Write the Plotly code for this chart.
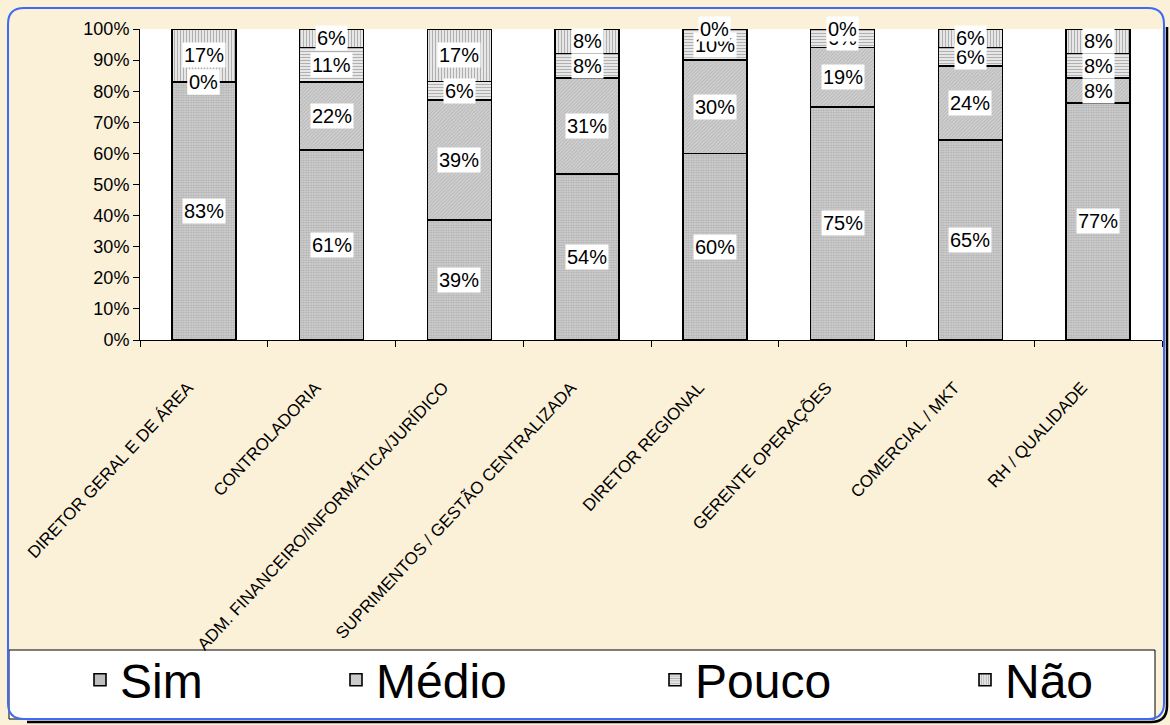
import plotly.graph_objects as go

categorias = [
    "DIRETOR GERAL E DE ÁREA",
    "CONTROLADORIA",
    "ADM. FINANCEIRO/INFORMÁTICA/JURÍDICO",
    "SUPRIMENTOS / GESTÃO CENTRALIZADA",
    "DIRETOR REGIONAL",
    "GERENTE OPERAÇÕES",
    "COMERCIAL / MKT",
    "RH / QUALIDADE",
]
sim = [83, 61, 39, 54, 60, 75, 65, 77]
medio = [0, 22, 39, 31, 30, 19, 24, 8]
pouco = [0, 11, 6, 8, 10, 6, 6, 8]
nao = [17, 6, 17, 8, 0, 0, 6, 8]

series = [
    ("Sim", sim, dict(shape=".", size=2.5, solidity=0.65, fgcolor="#888888", bgcolor="#dadada")),
    ("Médio", medio, dict(shape="/", size=2.5, solidity=0.45, fgcolor="#9a9a9a", bgcolor="#d4d4d4")),
    ("Pouco", pouco, dict(shape="-", size=3, solidity=0.45, fgcolor="#6e6e6e", bgcolor="#f2f2f2")),
    ("Não", nao, dict(shape="|", size=3, solidity=0.45, fgcolor="#6e6e6e", bgcolor="#f2f2f2")),
]
# left edge (px) of each legend entry
legend_x = [80, 336, 655, 965]

FONT = "Liberation Sans, Arial, sans-serif"
W, H = 1170, 725
L, R, T, B = 140, 1162, 29, 340

fig = go.Figure()
for k, (nome, vals, pat) in enumerate(series):
    fig.add_trace(go.Bar(
        name=nome, x=categorias, y=vals,
        marker=dict(color=pat["bgcolor"], pattern=pat,
                    line=dict(color="black", width=1.6)),
        hoverinfo="skip",
        legend="legend" if k == 0 else f"legend{k + 1}",
    ))

# value labels centred in each (normalised) segment, on white boxes
annotations = []
for i, cat in enumerate(categorias):
    total = sum(s[1][i] for s in series)
    base = 0.0
    for nome, vals, pat in series:
        h = vals[i] * 100.0 / total
        annotations.append(dict(
            x=cat, y=base + h / 2, xref="x", yref="y",
            text=f"{vals[i]}%", showarrow=False,
            font=dict(family=FONT, size=20, color="black"),
            bgcolor="white", borderpad=1,
        ))
        base += h


def px_x(p):
    return (p - L) / (R - L)


def px_y(p):
    return (B - p) / (B - T)


def rounded_rect(x0, y0, x1, y1, r):
    pts = [
        f"M {px_x(x0 + r)} {px_y(y0)}",
        f"L {px_x(x1 - r)} {px_y(y0)}",
        f"Q {px_x(x1)} {px_y(y0)} {px_x(x1)} {px_y(y0 + r)}",
        f"L {px_x(x1)} {px_y(y1 - r)}",
        f"Q {px_x(x1)} {px_y(y1)} {px_x(x1 - r)} {px_y(y1)}",
        f"L {px_x(x0 + r)} {px_y(y1)}",
        f"Q {px_x(x0)} {px_y(y1)} {px_x(x0)} {px_y(y1 - r)}",
        f"L {px_x(x0)} {px_y(y0 + r)}",
        f"Q {px_x(x0)} {px_y(y0)} {px_x(x0 + r)} {px_y(y0)}",
        "Z",
    ]
    return " ".join(pts)


def shadow_edge(x0, y0, x1, y1, r):
    # right and bottom sides only
    pts = [
        f"M {px_x(x1)} {px_y(y0 + r)}",
        f"L {px_x(x1)} {px_y(y1 - r)}",
        f"Q {px_x(x1)} {px_y(y1)} {px_x(x1 - r)} {px_y(y1)}",
        f"L {px_x(x0 + r)} {px_y(y1)}",
    ]
    return " ".join(pts)


shapes = [
    # legend panel
    dict(type="rect", xref="paper", yref="paper",
         x0=px_x(9), x1=px_x(1155), y0=px_y(650), y1=px_y(719),
         fillcolor="white", line=dict(color="black", width=1), layer="below"),
    # frame shadow
    dict(type="path", xref="paper", yref="paper",
         path=shadow_edge(11, 11, 1167, 722, 16),
         line=dict(color="black", width=2.5)),
    # frame
    dict(type="path", xref="paper", yref="paper",
         path=rounded_rect(8, 8, 1164, 719, 16),
         line=dict(color="#3f6af5", width=2)),
]

legend_style = dict(
    orientation="h", xref="container", yref="container",
    xanchor="left", yanchor="middle",
    font=dict(family=FONT, size=48, color="black"),
    bgcolor="rgba(0,0,0,0)", itemwidth=30,
)
legends = {}
for k, lx in enumerate(legend_x):
    key = "legend" if k == 0 else f"legend{k + 1}"
    legends[key] = dict(legend_style, x=lx / W, y=1 - 680 / H)

fig.update_layout(
    width=W, height=H,
    margin=dict(l=L, r=W - R, t=T, b=H - B, autoexpand=False),
    barmode="stack", barnorm="percent", bargap=0.5,
    paper_bgcolor="#fbf1d9", plot_bgcolor="white",
    font=dict(family=FONT, color="black"),
    showlegend=True,
    annotations=annotations,
    shapes=shapes,
    **legends,
)
fig.update_xaxes(
    type="category", showgrid=False, showline=True, linecolor="black", linewidth=1,
    ticks="outside", tickson="boundaries", ticklen=6, tickcolor="black",
    tickangle=-47, tickfont=dict(family=FONT, size=17, color="black"),
    ticklabelstandoff=30, ticklabelshift=-16, automargin=False,
)
fig.update_yaxes(
    range=[0, 100], dtick=10, ticksuffix="%", showgrid=False,
    showline=True, linecolor="black", linewidth=1,
    ticks="outside", ticklen=6, tickcolor="black",
    tickfont=dict(family=FONT, size=18, color="black"), automargin=False,
)

fig.write_html("out.html")
